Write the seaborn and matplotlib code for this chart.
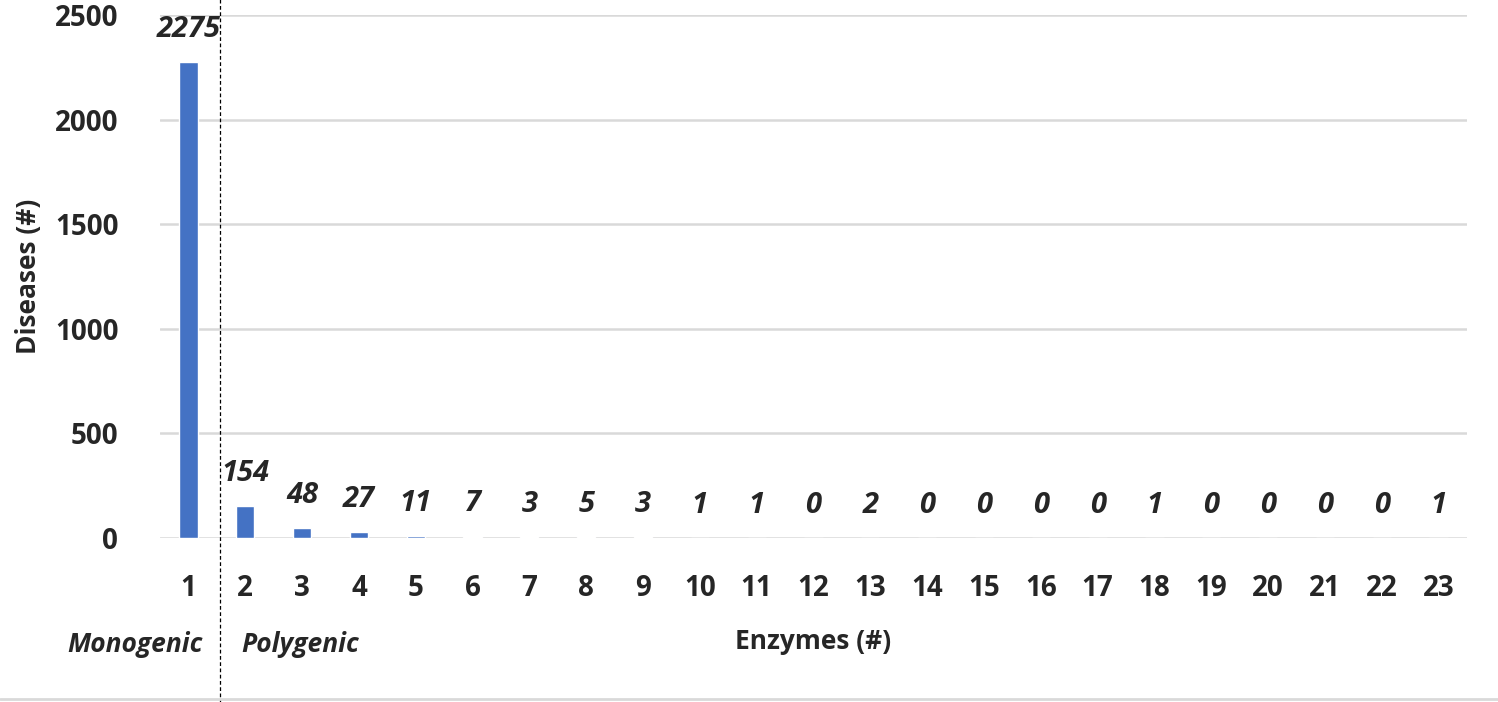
import matplotlib
matplotlib.use("Agg")
import matplotlib.pyplot as plt
import seaborn as sns
import pandas as pd
from matplotlib.lines import Line2D

enzymes = [str(i) for i in range(1, 24)]
diseases = [2275, 154, 48, 27, 11, 7, 3, 5, 3, 1, 1, 0, 2, 0, 0, 0, 0, 1, 0, 0, 0, 0, 1]
yticks = [0, 500, 1000, 1500, 2000, 2500]

sns.set_style("white")
plt.rcParams['font.family'] = ['Open Sans', 'DejaVu Sans']

df = pd.DataFrame({"Enzymes": enzymes, "Diseases": diseases})

fig = plt.figure(figsize=(14.98, 7.02), dpi=100)
ax = fig.add_axes([160/1498, 1 - 538/702, (1467-160)/1498, (538-15)/702])

sns.barplot(data=df, x="Enzymes", y="Diseases", color="#4472C4", width=0.32,
            saturation=1, ax=ax, zorder=3)
ax.set_xlim(-0.5, 22.5)
ax.set_ylim(0, 2500)
ax.set_yticks(yticks)
ax.set_yticklabels([str(t) for t in yticks], fontsize=20, fontweight='bold')
ax.tick_params(axis='x', labelsize=20, length=0, pad=26)
ax.tick_params(axis='y', length=0, pad=30)
for lab in ax.get_xticklabels():
    lab.set_fontweight('bold')
ax.yaxis.grid(True, color='#d9d9d9', linewidth=1.8, zorder=0)
for s in ax.spines.values():
    s.set_visible(False)

ax.set_xlabel("Enzymes (#)", fontsize=19, fontweight='bold', labelpad=18)
ax.set_ylabel("Diseases (#)", fontsize=19, fontweight='bold', labelpad=9)

for i, v in enumerate(diseases):
    ax.annotate(str(v), (i, v), xytext=(0, 13), textcoords='offset points',
                ha='center', va='bottom', fontsize=21, fontweight='bold',
                fontstyle='italic')

# dashed separator extending beyond axes
ax.axvline(0.55, ymin=-0.32, ymax=1.04, color='black', linestyle=(0, (3, 2)),
           linewidth=0.9, clip_on=False, zorder=5)

fig.text(135/1498, 1 - 645/702, "Monogenic", ha='center', va='center',
         fontsize=19, fontweight='bold', fontstyle='italic')
fig.text(300/1498, 1 - 645/702, "Polygenic", ha='center', va='center',
         fontsize=19, fontweight='bold', fontstyle='italic')

fig.add_artist(Line2D([0, 1], [1 - 699/702] * 2, transform=fig.transFigure,
                      color='#d9d9d9', linewidth=2))

fig.savefig("out.png", dpi=100)
